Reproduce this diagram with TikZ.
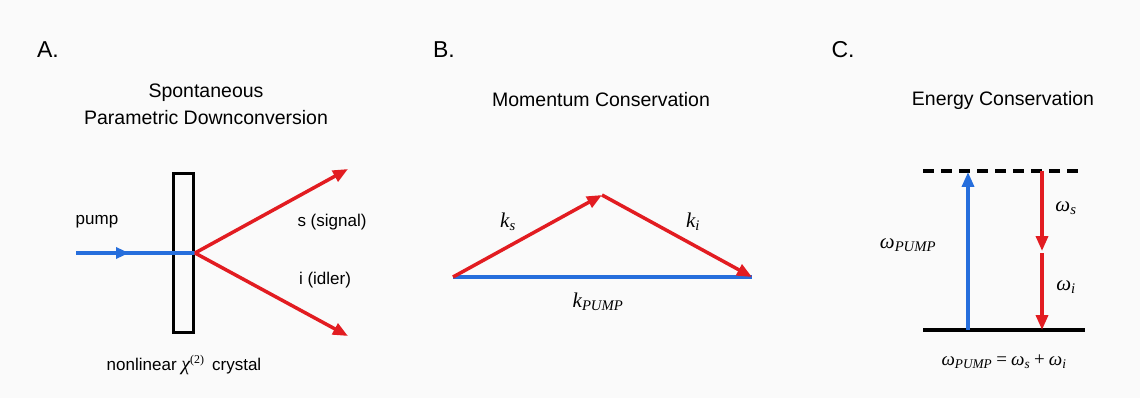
\documentclass[tikz,border=0pt]{standalone}
\usepackage{fontspec}
\setmainfont{Liberation Sans}
\newfontfamily\mserif{Liberation Serif}
\usetikzlibrary{arrows.meta}
\definecolor{bgc}{RGB}{250,250,250}
\definecolor{lred}{RGB}{226,28,33}
\definecolor{lblue}{RGB}{38,110,220}
\newcommand{\msub}[1]{\textsubscript{#1}}
\begin{document}
\begin{tikzpicture}[x=1pt,y=-1pt,
  pnl/.style={inner sep=0pt, font=\fontsize{23}{26}\selectfont},
  ttl/.style={inner sep=0pt, align=center, font=\fontsize{19.5}{27}\selectfont},
  lbl/.style={inner sep=0pt, font=\fontsize{17}{20}\selectfont},
  mth/.style={inner sep=0pt, font=\fontsize{21}{24}\mserif\itshape},
  tip/.style={-{Triangle[length=15pt,width=12pt]}},
  smalltip/.style={-{Triangle[length=13pt,width=11pt]}},
  redray/.style={draw=lred, line width=3.5pt, tip, color=lred},
  blueray/.style={draw=lblue, line width=3.5pt, tip, color=lblue},
  blueline/.style={draw=lblue, line width=3.5pt},
  level/.style={draw=black, line width=3.5pt},
  crystal/.style={draw=black, line width=3pt, inner sep=0pt, minimum width=20pt, minimum height=159pt}
]
\fill[bgc] (0,0) rectangle (1140,398);
\useasboundingbox (0,0) rectangle (1140,398);

% ---------- Panel A ----------
\node[pnl] (lA) at (48,50) {A.};
\node[ttl] (tA) at (206,104) {Spontaneous\\Parametric Downconversion};
\node[crystal] (crys) at (183.5,253) {};
\coordinate (p0) at (76,253);
\coordinate (pm) at (129,253);
\coordinate (hit) at (195,253);
\coordinate (sT) at (348,169);
\coordinate (iT) at (348,336);
\draw[blueline] (p0) -- (hit);
\draw[blueray, smalltip] (p0) -- (pm);
\draw[redray] (hit) -- (sT);
\draw[redray] (hit) -- (iT);
\node[lbl] (pump) at (97,222) {pump};
\node[lbl] (sig) at (332,222) {s (signal)};
\node[lbl] (idl) at (325,280) {i (idler)};
\node[lbl] (nl) at (184,365) {nonlinear {\mserif\itshape\fontsize{20}{20}\selectfont χ}\textsuperscript{\mserif(2)}\, crystal};

% ---------- Panel B ----------
\node[pnl] (lB) at (444,50) {B.};
\node[ttl] (tB) at (601,100) {Momentum Conservation};
\coordinate (L) at (453,277);
\coordinate (Ap) at (602,195);
\coordinate (R) at (752,277);
\draw[blueline] (L) -- (R);
\draw[redray] (L) -- (Ap);
\draw[redray] (Ap) -- (R);
\node[mth] (ks) at (508,222) {k\msub{s}};
\node[mth] (ki) at (693,222) {k\msub{i}};
\node[mth] (kp) at (598,302) {k\msub{PUMP}};

% ---------- Panel C ----------
\node[pnl] (lC) at (843,50) {C.};
\node[ttl] (tC) at (1003,100) {Energy Conservation};
\coordinate (dl) at (923,171);
\coordinate (dr) at (1085,171);
\coordinate (gl) at (923,330);
\coordinate (gr) at (1085,330);
\draw[level, dash pattern=on 11pt off 7pt] (dl) -- (dr);
\draw[level] (gl) -- (gr);
\coordinate (b0) at (968,330);
\coordinate (b1) at (968,172);
\draw[blueray] (b0) -- (b1);
\coordinate (r0) at (1042,171);
\coordinate (r1) at (1042,251);
\coordinate (r2) at (1042,253);
\coordinate (r3) at (1042,330);
\draw[redray] (r0) -- (r1);
\draw[redray] (r2) -- (r3);
\node[mth] (ws) at (1066,208) {ω\msub{s}};
\node[mth] (wi) at (1066,287) {ω\msub{i}};
\node[mth] (wp) at (908,245) {ω\msub{PUMP}};
\node[mth, font=\fontsize{19}{22}\mserif\itshape] (eq) at (1004,362) {ω\msub{PUMP}\hspace{4pt}{\upshape =}\hspace{4pt}ω\msub{s}\hspace{4pt}{\upshape +}\hspace{4pt}ω\msub{i}};
\end{tikzpicture}
\end{document}
